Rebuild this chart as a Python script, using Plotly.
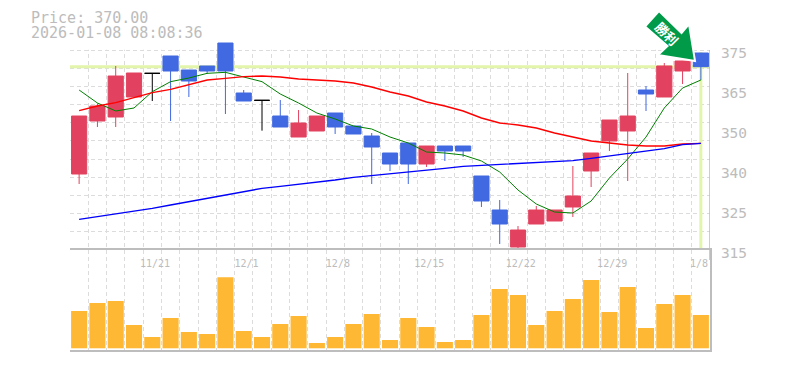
import plotly.graph_objects as go

dates = ["11/17","11/18","11/19","11/20","11/21","11/25","11/26","11/27","11/28","12/1","12/2","12/3","12/4","12/5",
         "12/8","12/9","12/10","12/11","12/12","12/15","12/16","12/17","12/18","12/19","12/22","12/23","12/24","12/25","12/26",
         "12/29","12/30","1/5","1/6","1/7","1/8"]
labelled = ["11/21","12/1","12/8","12/15","12/22","12/29","1/8"]
label_nudge = [0.15, 0.15, 0.15, 0.15, 0.15, 0.15, -0.1]

opens  = [337.8,353.7,354.9,360.9,368,373.2,369,370.2,377.1,362.1,359.9,355.2,348.9,350.7,356.1,352.2,349.2,344.1,347.1,340.8,346.2,346.2,337.2,327,315.9,322.8,323.7,327.9,338.7,347.7,350.7,363,360.9,368.7,374.1]
highs  = [355.2,359,370.2,368.1,368,373.2,369,370.2,377.1,363,359.9,360,357,355.2,356.1,352.2,350.1,344.1,347.1,346.2,346.2,346.2,337.2,330,322.2,328.2,327,340.2,344.1,354,368.1,364.2,371.1,371.7,374.1]
lows   = [334.8,351.9,351.9,360.9,359.7,353.7,360.9,367.8,355.8,359.7,350.8,351.9,348.9,350.7,349.8,349.8,334.8,338.7,334.8,339.9,341.7,342.9,327.9,316.8,314.7,322.8,323.7,324.9,333.9,344.7,335.7,356.7,360.9,364.8,366]
closes = [355.2,358.2,367.2,368.1,368,368.7,365.7,368.7,368.7,359.7,359.9,351.9,353.1,355.2,351.9,349.8,345.9,340.8,340.8,346.2,344.7,344.7,329.7,322.8,321,327,327,331.2,344.1,354,355.2,361.8,370.2,371.7,370]

ma_short = [363,359.1,356.7,357.6,362.5,365.5,366.6,368,368.3,367,365.5,361.8,359.1,356.1,354.3,352.2,351.3,348.9,347.1,344.4,344.1,343.5,341.7,338.4,333,328.8,326.4,326.1,329.7,336.6,342.3,348.9,357.6,363.6,366]
ma_mid   = [356.8,358.2,359.2,360.8,362.2,363.2,364.5,366,366.5,367,367.2,366.9,366.3,366,365.7,365.1,363.9,362.4,361.2,359.4,358.2,356.7,354.6,353.1,352.5,351.6,350.1,348.9,347.7,347.1,346.5,346.2,346.2,346.8,347]
ma_long  = [324.2,325,326,326.8,327.5,328.5,329.5,330.5,331.5,332.5,333.5,334.1,334.7,335.3,336,336.8,337.3,337.8,338.5,339,339.5,340.1,340.4,340.8,341,341.2,341.6,341.8,342.5,343.2,344,344.6,345.4,346.6,347]

volumes = [37.3,45.3,47.3,23.3,11.3,30.3,16.3,14.3,71,17.3,11.3,24.3,32.3,5.3,11.3,24.3,34.3,8.3,30.3,21.3,6.3,8.3,33.3,59.3,53.3,23.3,37.3,49.3,68.3,36.3,61.3,20.3,44.3,53.3,33.3]

price_ticks = [375, 363, 351, 339, 327, 315]
price_labels = ["375", "365", "350", "340", "325", "315"]
last_price = 370
title_lines = ["Price: 370.00", "2026-01-08 08:08:36"]
badge_text = "勝利"

RED, BLUE, ORANGE = "#E2425F", "#4169E1", "#FFB833"
GRID, AXIS, TXT = "#dcdcdc", "#bdbdbd", "#bcbcbc"
MONO = "DejaVu Sans Mono"
idx = list(range(len(dates)))
doji = [i for i in idx if opens[i] == closes[i]]
solid = [i for i in idx if i not in doji]

fig = go.Figure()
for vals, col, w in [(ma_short, "#008000", 1), (ma_mid, "#ff0000", 1.4), (ma_long, "#0000ff", 1.4)]:
    fig.add_trace(go.Scatter(x=idx, y=vals, mode="lines", line=dict(color=col, width=w), xaxis="x", yaxis="y"))
pick = lambda a, s: [a[i] for i in s]
fig.add_trace(go.Candlestick(x=solid, open=pick(opens, solid), high=pick(highs, solid), low=pick(lows, solid), close=pick(closes, solid),
    increasing=dict(line=dict(color=RED, width=1), fillcolor=RED), decreasing=dict(line=dict(color=BLUE, width=1), fillcolor=BLUE),
    whiskerwidth=0, xaxis="x", yaxis="y"))
fig.add_trace(go.Candlestick(x=doji, open=pick(opens, doji), high=pick(highs, doji), low=pick(lows, doji), close=pick(closes, doji),
    increasing=dict(line=dict(color="#000000", width=1), fillcolor="#000000"), decreasing=dict(line=dict(color="#000000", width=1), fillcolor="#000000"),
    whiskerwidth=0, xaxis="x", yaxis="y"))
fig.add_trace(go.Bar(x=idx, y=volumes, marker=dict(color=ORANGE, line=dict(width=0)), xaxis="x2", yaxis="y2"))

gridstyle = dict(showgrid=True, gridcolor=GRID, griddash="4px,3px", gridwidth=1, ticks="")
xr = [-0.5, len(dates) - 0.5]
fig.update_layout(
    width=785, height=370, margin=dict(l=70, r=75, t=40, b=20),
    paper_bgcolor="white", plot_bgcolor="white", showlegend=False, bargap=0.12, boxmode="overlay", boxgap=0.17, boxgroupgap=0,
    font=dict(family=MONO, color=TXT),
    xaxis=dict(domain=[0, 1], anchor="y", range=xr, rangeslider=dict(visible=False), showgrid=False, showline=False, zeroline=False,
               tickmode="array", tickvals=[], showticklabels=False,
               minor=dict(tick0=-0.5, dtick=1, **gridstyle)),
    xaxis2=dict(domain=[0, 1], anchor="y2", side="top", range=xr, showgrid=False, zeroline=False, showline=True, mirror=True,
                linecolor=AXIS, linewidth=2, ticks="", ticklabelposition="inside", ticklabelstandoff=9,
                tickmode="array", tickvals=[dates.index(d) + n for d, n in zip(labelled, label_nudge)], ticktext=labelled,
                tickfont=dict(family=MONO, size=10, color=TXT),
                minor=dict(tick0=-0.5, dtick=1, **gridstyle)),
    yaxis=dict(domain=[90 / 310, 1], anchor="x", side="right", range=[312, 378], showgrid=False, zeroline=False, showline=False,
               tickmode="array", tickvals=[v - 0.9 for v in price_ticks], ticktext=price_labels, ticks="outside", ticklen=7, tickcolor="rgba(0,0,0,0)",
               tickfont=dict(family=MONO, size=14.5, color=TXT),
               minor=dict(tick0=315, dtick=60 / 11, **gridstyle)),
    yaxis2=dict(domain=[0, 100 / 310], anchor="x2", side="right", range=[-1.7, 98.3], showgrid=False, zeroline=False, showline=True,
                linecolor=AXIS, linewidth=1.5, showticklabels=False, ticks=""),
    shapes=[
        dict(type="rect", xref="x", yref="y", x0=xr[0] - 0.1, x1=xr[1] + 0.1, y0=375.05, y1=378, fillcolor="white", line_width=0, layer="between"),
        dict(type="line", xref="x", yref="y", x0=xr[0], x1=xr[1], y0=last_price, y1=last_price, line=dict(color="#E3F5AA", width=3), layer="between"),
        dict(type="line", xref="x", yref="y", x0=idx[-1], x1=idx[-1], y0=315.2, y1=374.4, line=dict(color="#E3F5AA", width=3), layer="between"),
        dict(type="line", xref="x", yref="y", x0=xr[1], x1=xr[1], y0=312, y1=375, line=dict(color=AXIS, width=1.5), layer="above"),
        # badge arrow, in pixels relative to the page
        dict(type="path", xref="paper", yref="paper",
             path=" ".join(
                 ("M" if k == 0 else "L") + f"{(px - 70) / 640:.4f},{(350 - py) / 310:.4f}"
                 for k, (px, py) in enumerate([(659, 11), (681.5, 33), (689, 24), (695, 61), (658, 55), (667.5, 46), (645, 26.5)])
             ) + " Z",
             fillcolor="#009A49", line=dict(color="white", width=2), layer="above"),
    ],
    annotations=[
        dict(xref="paper", yref="paper", x=(28.5 - 70) / 640, y=(350 - 18) / 310, xanchor="left", yanchor="middle", text=title_lines[0], showarrow=False,
             font=dict(family=MONO, size=15, color=TXT)),
        dict(xref="paper", yref="paper", x=(28.5 - 70) / 640, y=(350 - 33) / 310, xanchor="left", yanchor="middle", text=title_lines[1], showarrow=False,
             font=dict(family=MONO, size=15, color=TXT)),
        dict(xref="paper", yref="paper", x=(667 - 70) / 640, y=(350 - 33.5) / 310, xanchor="center", yanchor="middle", text="<b>" + badge_text + "</b>", showarrow=False, textangle=45,
             font=dict(family="Noto Sans CJK JP", size=13, color="white")),
    ],
)
fig.write_html("out.html", config={"displayModeBar": False}, post_script="document.body.style.margin='0';document.body.style.overflow='hidden';")
